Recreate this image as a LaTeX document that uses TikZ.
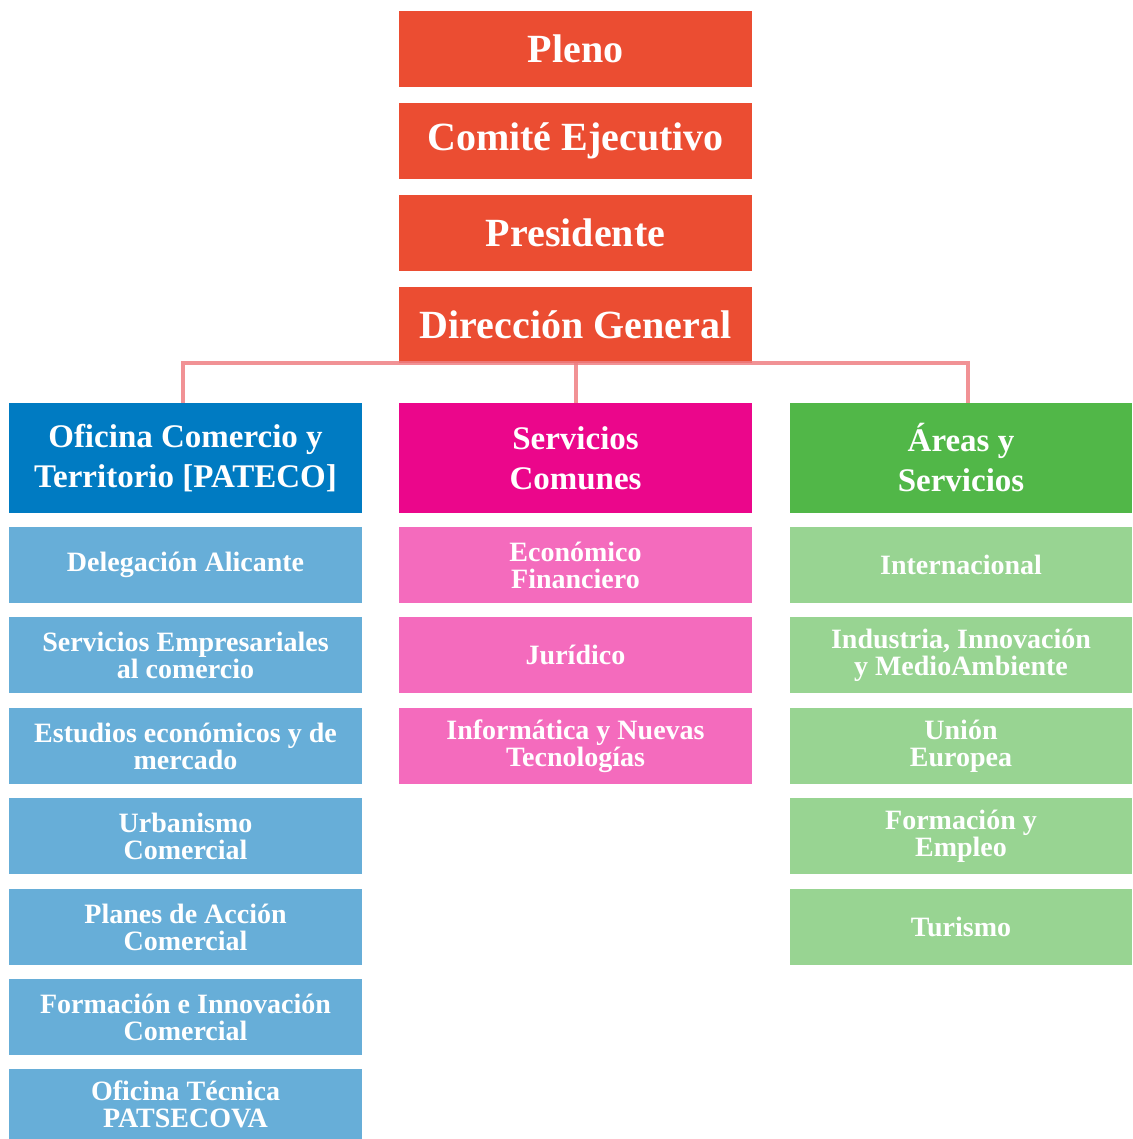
\documentclass[tikz,border=0pt]{standalone}
\usepackage{fontspec}
\setmainfont{Liberation Serif}
\usepackage{tikz}

\definecolor{rojo}{HTML}{EB4D32}
\definecolor{azul}{HTML}{007BC2}
\definecolor{azulclaro}{HTML}{67AED8}
\definecolor{magenta}{HTML}{EB068B}
\definecolor{rosa}{HTML}{F46BBD}
\definecolor{verde}{HTML}{51B748}
\definecolor{verdeclaro}{HTML}{98D492}
\definecolor{linea}{HTML}{EE7F82}

\begin{document}
\begin{tikzpicture}[x=1pt, y=-1pt,
    box/.style={shape=rectangle, inner sep=0pt, text=white, align=center,
      font=\bfseries},
    topbox/.style={box, fill=rojo, minimum width=353pt, minimum height=76pt,
      font=\bfseries\fontsize{40}{42}\selectfont},
    headbox/.style={box, minimum width=353pt, minimum height=110pt,
      font=\bfseries\fontsize{33}{40}\selectfont},
    subbox/.style={box, minimum width=353pt, minimum height=76pt,
      font=\bfseries\fontsize{28}{27}\selectfont},
    conn/.style={draw=linea, line width=4pt, opacity=0.85}]
  \useasboundingbox (0, 0) rectangle (1132, 1139);
  \node (pleno) at (575.5, 49) [topbox] {Pleno};
  \node (comite) at (575.5, 141) [topbox] {Comité Ejecutivo};
  \node (presidente) at (575.5, 233) [topbox] {Presidente};
  \node (direccion) at (575.5, 325) [topbox] {Dirección General};
  % columnas
  \node (oficina) at (185.5, 458) [headbox, fill=azul] {Oficina Comercio y\\Territorio [PATECO]};
  \node (servicios) at (575.5, 458) [headbox, fill=magenta] {Servicios\\Comunes};
  \node (areas) at (961, 458) [headbox, fill=verde, minimum width=342pt] {Áreas y\\Servicios};
  % oficina
  \node (delegacion) at (185.5, 565) [subbox, fill=azulclaro] {Delegación Alicante};
  \node (empresariales) at (185.5, 655) [subbox, fill=azulclaro] {Servicios Empresariales\\al comercio};
  \node (estudios) at (185.5, 746) [subbox, fill=azulclaro] {Estudios económicos y de\\mercado};
  \node (urbanismo) at (185.5, 836) [subbox, fill=azulclaro] {Urbanismo\\Comercial};
  \node (planes) at (185.5, 927) [subbox, fill=azulclaro] {Planes de Acción\\Comercial};
  \node (formacion) at (185.5, 1017) [subbox, fill=azulclaro] {Formación e Innovación\\Comercial};
  \node (tecnica) at (185.5, 1104) [subbox, fill=azulclaro, minimum height=70pt] {Oficina Técnica\\PATSECOVA};
  % servicios comunes
  \node (economico) at (575.5, 565) [subbox, fill=rosa] {Económico\\Financiero};
  \node (juridico) at (575.5, 655) [subbox, fill=rosa] {Jurídico};
  \node (informatica) at (575.5, 746) [subbox, fill=rosa] {Informática y Nuevas\\Tecnologías};
  % areas
  \node (internacional) at (961, 565) [subbox, fill=verdeclaro, minimum width=342pt] {Internacional};
  \node (industria) at (961, 655) [subbox, fill=verdeclaro, minimum width=342pt] {Industria, Innovación\\y MedioAmbiente};
  \node (union) at (961, 746) [subbox, fill=verdeclaro, minimum width=342pt] {Unión\\Europea};
  \node (empleo) at (961, 836) [subbox, fill=verdeclaro, minimum width=342pt] {Formación y\\Empleo};
  \node (turismo) at (961, 927) [subbox, fill=verdeclaro, minimum width=342pt] {Turismo};
  % conexiones
  \draw[conn] ([xshift=-2.5pt]oficina.north) -- ++(0, -40) -| ([xshift=7pt]areas.north);
  \draw[conn] (direccion.south) -- (servicios.north);
\end{tikzpicture}
\end{document}
